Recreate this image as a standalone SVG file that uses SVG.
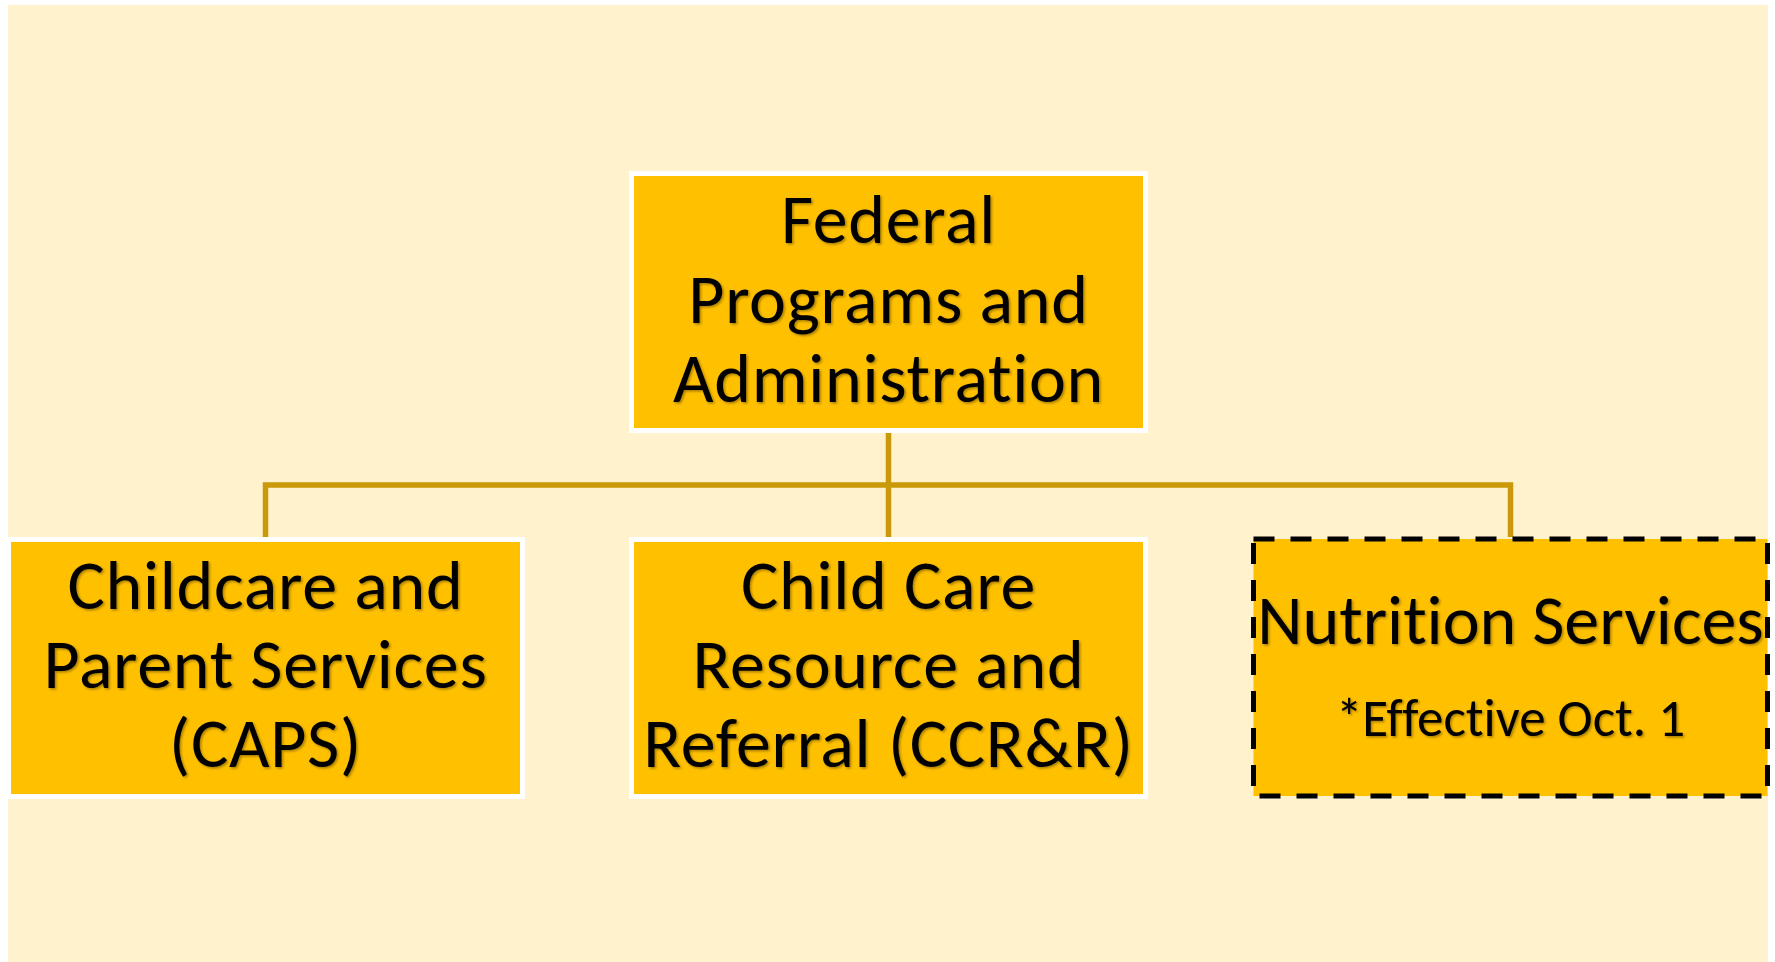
<svg xmlns="http://www.w3.org/2000/svg" width="1775" height="962" viewBox="0 0 1775 962">
  <defs>
    <filter id="shadow" x="-10%" y="-20%" width="120%" height="140%">
      <feDropShadow dx="1.5" dy="1.5" stdDeviation="1.2" flood-color="#000" flood-opacity="0.35"/>
    </filter>
  </defs>
  <style>
    .box { fill: #FFC000; stroke: #FFFFFF; stroke-width: 5; }
    .dbox { fill: #FFC000; stroke: #000000; stroke-width: 5; stroke-dasharray: 21 16; }
    .t { font-family: Carlito, Lato, "Liberation Sans", sans-serif; font-size: 70px; fill: #000; text-anchor: middle; filter: url(#shadow); font-variant-ligatures: none; font-feature-settings: "liga" 0, "clig" 0; letter-spacing: 0.7px; }
    .n { letter-spacing: 0; }
    .s { font-size: 53px; letter-spacing: 0; }
    .conn { fill: none; stroke: #C9990A; stroke-width: 5.5; stroke-linejoin: miter; }
  </style>
  <rect x="0" y="0" width="1775" height="962" fill="#FFFFFF"/>
  <rect x="8" y="5" width="1760" height="957" fill="#FFF2CC"/>

  <g id="connectors">
    <path class="conn" d="M888.5,433 V537"/>
    <path class="conn" d="M265.5,537 V485 H1510.5 V537"/>
  </g>

  <g id="node-federal">
    <rect class="box" x="631.5" y="173.5" width="514" height="257"/>
    <text class="t" x="888.5" y="243">Federal</text>
    <text class="t" x="888.5" y="323">Programs and</text>
    <text class="t" x="888.5" y="402">Administration</text>
  </g>

  <g id="node-caps">
    <rect class="box" x="8.5" y="539.5" width="514" height="257"/>
    <text class="t" x="265.5" y="609">Childcare and</text>
    <text class="t" x="265.5" y="688">Parent Services</text>
    <text class="t" x="265.5" y="767">(CAPS)</text>
  </g>

  <g id="node-ccrr">
    <rect class="box" x="631.5" y="539.5" width="514" height="257"/>
    <text class="t" x="888.5" y="609">Child Care</text>
    <text class="t" x="888.5" y="688">Resource and</text>
    <text class="t" x="888.5" y="767">Referral (CCR&amp;R)</text>
  </g>

  <g id="node-nutrition">
    <rect class="dbox" x="1253.5" y="539" width="514" height="257"/>
    <text class="t n" x="1510.5" y="644">Nutrition Services</text>
    <text class="t s" x="1510.5" y="736">*Effective Oct. 1</text>
  </g>
</svg>
